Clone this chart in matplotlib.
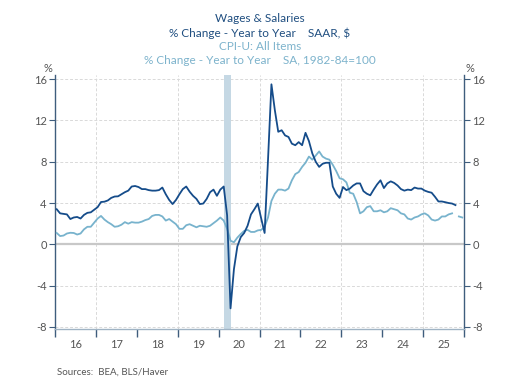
import matplotlib
matplotlib.use("Agg")
import matplotlib.pyplot as plt
import numpy as np

plt.rcParams['font.family'] = ['Lato', 'DejaVu Sans']

DARK = '#154c8a'
LIGHT = '#78b3cd'
SHADE = '#c5d8e4'
SPINE = '#3f5d7d'
TICKTXT = '#555555'

# monthly y/y % change, Jan 2016 onward
wages = [
    3.4, 3.0, 2.95, 2.9, 2.45, 2.6, 2.65, 2.5, 2.85, 3.05, 3.1, 3.35,
    3.6, 4.1, 4.13, 4.25, 4.5, 4.63, 4.65, 4.85, 5.05, 5.2, 5.6, 5.65,
    5.55, 5.35, 5.35, 5.25, 5.2, 5.2, 5.25, 5.5, 4.85, 4.3, 3.9, 4.3,
    4.85, 5.35, 5.6, 5.1, 4.7, 4.4, 3.9, 3.95, 4.4, 5.05, 5.3, 4.7,
    5.3, 5.6, 2.8, -6.2, -2.4, -0.2, 0.7, 1.1, 1.8, 2.9, 3.4, 3.95,
    2.5, 1.1, 8.2, 15.5, 13.0, 10.9, 11.05, 10.55, 10.4, 9.75, 9.6, 9.9,
    9.6, 10.8, 10.0, 8.8, 8.0, 7.5, 7.8, 7.9, 7.9, 5.6, 4.9, 4.5,
    5.55, 5.25, 5.4, 5.7, 5.9, 5.9, 5.15, 4.9, 4.75, 5.3, 5.8, 6.2,
    5.45, 5.9, 6.1, 5.95, 5.7, 5.35, 5.2, 5.3, 5.25, 5.5, 5.4, 5.4,
    5.2, 5.08, 5.0, 4.6, 4.15, 4.15, 4.08, 4.0, 3.95, 3.8,
]

cpi = [
    1.1, 0.8, 0.85, 1.05, 1.12, 1.1, 0.95, 1.05, 1.45, 1.7, 1.7, 2.1,
    2.5, 2.75, 2.4, 2.15, 1.95, 1.7, 1.75, 1.9, 2.15, 2.0, 2.15, 2.1,
    2.1, 2.2, 2.35, 2.45, 2.75, 2.85, 2.85, 2.7, 2.3, 2.45, 2.2, 1.95,
    1.5, 1.5, 1.85, 1.95, 1.8, 1.65, 1.8, 1.75, 1.7, 1.8, 2.05, 2.3,
    2.6, 2.3, 1.5, 0.35, 0.2, 0.65, 1.0, 1.3, 1.4, 1.2, 1.2, 1.35,
    1.4, 1.7, 2.6, 4.2, 4.9, 5.3, 5.3, 5.2, 5.4, 6.2, 6.8, 7.0,
    7.5, 7.9, 8.5, 8.2, 8.6, 9.0, 8.5, 8.3, 8.2, 7.7, 7.1, 6.4,
    6.3, 6.0, 5.0, 4.9, 4.1, 3.0, 3.2, 3.6, 3.7, 3.2, 3.2, 3.3,
    3.1, 3.2, 3.5, 3.4, 3.3, 3.0, 2.9, 2.5, 2.4, 2.6, 2.7, 2.9,
    3.0, 2.8, 2.4, 2.3, 2.4, 2.7, 2.7, 2.9, 3.0, np.nan, 2.7, 2.6,
]

year_labels = ['16', '17', '18', '19', '20', '21', '22', '23', '24', '25']
recession = (2020 + 1.5 / 12, 2020 + 3.5 / 12)

# mid-month positions in fractional years
t_w = 2016 + (np.arange(len(wages)) + 0.5) / 12
t_c = 2016 + (np.arange(len(cpi)) + 0.5) / 12

fig = plt.figure(figsize=(5.2, 3.8), dpi=100)
ax = fig.add_axes([55 / 520, 1 - 329 / 380, 409 / 520, 254 / 380])
ax.set_xlim(2016, 2026)
ax.set_ylim(-8.2, 16.4)

# grid
for y in [-8, -4, 4, 8, 12, 16]:
    ax.axhline(y, color='#d9d9d9', lw=0.7, ls=(0, (3, 2)), zorder=0)
for x in [2017, 2019, 2021, 2023, 2025]:
    ax.axvline(x, color='#d9d9d9', lw=0.7, ls=(0, (3, 2)), zorder=0)
ax.axhline(0, color='#c8c8c8', lw=1.6, zorder=1)

ax.axvspan(*recession, color=SHADE, lw=0, zorder=1)

ax.plot(t_c, cpi, color=LIGHT, lw=1.3, zorder=3)
ax.plot(t_w, wages, color=DARK, lw=1.3, zorder=4)

# axes styling
for side in ['top']:
    ax.spines[side].set_visible(False)
ax.spines['left'].set_color(SPINE)
ax.spines['right'].set_color(SPINE)
ax.spines['bottom'].set_color('#9fb3c4')
for s in ['left', 'right', 'bottom']:
    ax.spines[s].set_linewidth(1.0)

yt = [-8, -4, 0, 4, 8, 12, 16]
ax.set_yticks(yt)
ax.set_yticklabels([str(v) for v in yt])
ax.tick_params(axis='y', which='both', left=True, right=True, labelleft=True,
               labelright=True, direction='out', length=4, width=0.8,
               color=SPINE, labelsize=8, labelcolor=TICKTXT, pad=2)

ax.set_xticks(np.arange(2016, 2027))
ax.set_xticklabels([])
ax.set_xticks(np.arange(2016, 2026) + 0.5, minor=True)
ax.set_xticklabels(year_labels, minor=True)
ax.tick_params(axis='x', which='major', direction='out', length=6, width=1.0,
               color=SPINE)
ax.tick_params(axis='x', which='minor', length=0, labelsize=8,
               labelcolor=TICKTXT, pad=7)

# titles
fig.text(0.5, 1 - 19 / 380, 'Wages & Salaries', color='#1f4e80', fontsize=8.5,
         ha='center', va='center')
fig.text(0.5, 1 - 33 / 380, '% Change - Year to Year    SAAR, $', color='#1f4e80',
         fontsize=8.5, ha='center', va='center')
fig.text(0.5, 1 - 47 / 380, 'CPI-U: All Items', color='#7db3cc', fontsize=8.5,
         ha='center', va='center')
fig.text(0.5, 1 - 61 / 380, '% Change - Year to Year    SA, 1982-84=100',
         color='#7db3cc', fontsize=8.5, ha='center', va='center')

fig.text(48 / 520, 1 - 69 / 380, '%', color=TICKTXT, fontsize=8, ha='center', va='center')
fig.text(470 / 520, 1 - 69 / 380, '%', color=TICKTXT, fontsize=8, ha='center', va='center')

fig.text(57 / 520, 1 - 372 / 380, 'Sources:  BEA, BLS/Haver', color=TICKTXT,
         fontsize=7, ha='left', va='center')

fig.savefig('out.png', dpi=100, facecolor='white')
